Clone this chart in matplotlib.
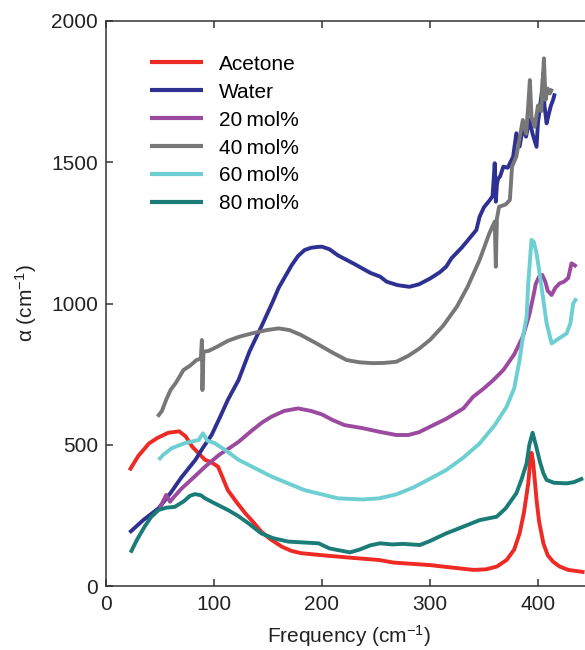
import matplotlib
matplotlib.use("Agg")
import matplotlib.pyplot as plt

plt.rcParams['font.family'] = ['Liberation Sans', 'DejaVu Sans']
plt.rcParams['mathtext.default'] = 'regular'

# ---------------- data ----------------
acetone_x = [22, 30, 40, 48, 58, 68, 74, 80, 86, 92, 97, 104, 113, 121, 129, 137, 144, 153, 163, 172, 181,
             200, 230, 253, 266, 300, 340, 352, 362, 371, 378, 383, 387, 391, 393, 394, 395.5, 398.7, 401,
             405, 409, 414, 420, 428, 443]
acetone_y = [410, 460, 505, 525, 543, 548, 530, 494, 470, 447, 440, 423, 340, 298, 259, 225, 193, 165, 140,
             125, 117, 110, 100, 93, 84, 75, 58, 60, 70, 93, 130, 187, 260, 364, 450, 472, 440, 305, 230,
             152, 110, 87, 70, 58, 50]

water_x = [22, 35, 49, 60, 70, 83, 90, 98, 106, 113, 123, 133, 144, 155, 160, 166, 172, 178, 184, 190, 196,
           200, 207, 215, 229, 245, 254, 260, 270, 281, 290, 300, 309, 315, 320, 330, 343, 346, 350, 355.5,
           358, 360, 361, 362, 363, 365, 368, 372, 377, 380, 383, 386, 389, 392, 395, 398.7, 400, 402, 404,
           404.8, 406, 408, 410, 412, 414, 415.6]
water_y = [190, 235, 276, 330, 385, 447, 490, 535, 600, 659, 730, 830, 918, 1010, 1055, 1095, 1135, 1168,
           1189, 1197, 1200, 1201, 1192, 1170, 1142, 1108, 1095, 1077, 1065, 1059, 1068, 1088, 1110, 1130,
           1160, 1200, 1260, 1307, 1340, 1366, 1380, 1496, 1360, 1420, 1440, 1450, 1484, 1480, 1519, 1602,
           1555, 1620, 1590, 1650, 1600, 1554, 1640, 1700, 1760, 1814, 1700, 1637, 1670, 1700, 1720, 1743]

m20_x = [50, 53, 56, 59.5, 63, 70, 80, 92, 105, 115, 123, 135, 145, 153.5, 165, 178, 190, 200, 210, 221,
         238, 255, 269, 280, 290, 300, 315, 331, 340, 350, 358.6, 368, 378, 386, 392, 395.6, 398, 401, 404,
         407, 409, 412.6, 416, 420, 424, 428, 431, 434, 435.7]
m20_y = [276, 300, 323, 299, 315, 345, 380, 423, 465, 490, 511, 550, 580, 600, 620, 629, 620, 608, 588, 570,
         559, 545, 535, 535, 545, 564, 592, 629, 670, 700, 729, 765, 820, 883, 960, 1024, 1070, 1095, 1101,
         1075, 1045, 1030, 1055, 1071, 1077, 1090, 1142, 1135, 1130]

m40_x = [48, 52, 56, 60, 65, 72, 78, 84, 88, 89, 89.5, 90.5, 95, 103, 113, 124, 136, 149, 160, 170, 180,
         195, 210, 223, 235, 247, 258, 269, 280, 290, 300, 312, 325, 335, 346, 355, 360, 361, 362, 364, 370,
         374, 376, 380, 386, 389, 391, 392.5, 394, 397, 400, 403, 405.5, 407, 409, 411, 413]
m40_y = [600, 620, 660, 694, 720, 765, 780, 800, 805, 871, 694, 830, 832, 847, 868, 883, 895, 906, 912, 906,
         890, 859, 826, 800, 792, 789, 790, 794, 815, 840, 871, 920, 989, 1060, 1154, 1248, 1290, 1130,
         1300, 1342, 1350, 1366, 1484, 1520, 1649, 1600, 1700, 1790, 1660, 1625, 1700, 1680, 1867, 1720,
         1760, 1743, 1760]

m60_x = [49, 53, 61, 73, 86, 90, 94, 101, 112, 123, 138, 153.5, 170, 184, 200, 215, 238, 253, 269, 285,
         300, 315, 331, 346, 360, 371, 378, 383, 386, 389.5, 391, 394, 396, 398.7, 401, 405, 408, 412.6,
         417, 422, 426.5, 430, 432.6, 435.7]
m60_y = [447, 464, 488, 506, 517, 541, 515, 506, 478, 447, 418, 388, 362, 340, 325, 311, 307, 311, 325, 350,
         380, 411, 455, 505, 570, 635, 700, 800, 880, 953, 1071, 1225, 1219, 1177, 1120, 1012, 930, 859,
         870, 883, 894, 930, 1000, 1018]

m80_x = [23, 29, 36, 42, 49, 56, 64, 72, 78, 82.6, 88, 92, 100, 113, 122, 132, 144, 155, 169, 183, 197,
         207, 215, 226, 235, 245, 254, 265, 275, 290.8, 300, 315, 331, 346, 361.7, 370, 380, 385, 389.5,
         392, 395, 398, 401.8, 405, 408, 415, 426.5, 433, 441.8]
m80_y = [119, 165, 211, 245, 270, 278, 281, 300, 320, 326, 322, 311, 295, 270, 250, 223, 187, 170, 158,
         155, 152, 134, 128, 120, 130, 145, 152, 148, 150, 146, 160, 187, 211, 234, 246, 275, 329, 380,
         435, 500, 543, 500, 440, 400, 376, 366, 364, 368, 382]

series = [
    ("Acetone", acetone_x, acetone_y, "#EE2A24"),
    ("Water", water_x, water_y, "#2E3192"),
    ("20\u2009mol%", m20_x, m20_y, "#9B4A9F"),
    ("40\u2009mol%", m40_x, m40_y, "#777777"),
    ("60\u2009mol%", m60_x, m60_y, "#6DCFD1"),
    ("80\u2009mol%", m80_x, m80_y, "#1B7C77"),
]

# ---------------- figure ----------------
FS = 15
fig = plt.figure(figsize=(5.85, 6.5), dpi=100)
ax = fig.add_axes([105.7 / 585, (650 - 586.3) / 650, (592 - 105.7) / 585, (586.3 - 20.7) / 650])

for label, xs, ys, col in series:
    ax.plot(xs, ys, color=col, lw=2.8, label=label, solid_joinstyle='round', solid_capstyle='butt')

ax.set_xlim(0, 450)
ax.set_ylim(0, 2000)
ax.set_xticks([0, 100, 200, 300, 400])
ax.set_yticks([0, 500, 1000, 1500, 2000])
ax.tick_params(direction='in', length=5, width=1.1, top=True, right=True, labelsize=FS,
               color='#333333', labelcolor='#222222')
ax.tick_params(axis='x', pad=6)
ax.tick_params(axis='y', pad=5.5)
for s in ax.spines.values():
    s.set_linewidth(1.1)
    s.set_color('#333333')

ax.set_xlabel("Frequency (cm$^{-1}$)", fontsize=FS, color='#222222', labelpad=6.5)
ax.set_ylabel("\u03b1 (cm$^{-1}$)", fontsize=FS, color='#222222', labelpad=9)

leg = ax.legend(loc='upper left', bbox_to_anchor=(0.091, 0.94), frameon=False, fontsize=FS,
                handlelength=2.55, handletextpad=0.77, labelspacing=0.43, borderpad=0, borderaxespad=0)
for h in leg.get_lines():
    h.set_linewidth(3.0)

fig.savefig("out.png", dpi=100)
